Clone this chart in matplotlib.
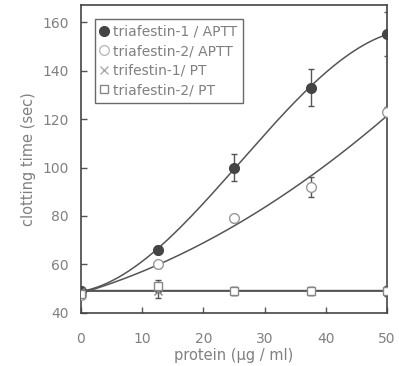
import numpy as np
import matplotlib
matplotlib.use("Agg")
import matplotlib.pyplot as plt
from matplotlib.lines import Line2D

# protein concentration (ug/ml)
protein = [0, 12.5, 25, 37.5, 50]

# clotting times (sec)
t1_aptt = [49, 66, 100, 133, 155]
t1_aptt_err = [1.5, 1.5, 5.5, 7.5, 9]
t2_aptt = [47.5, 60, 79, 92, 123]
t2_aptt_err = [1.5, 1.5, 1.5, 4, 2]
t1_pt = [49, 49, 49, 49, 49]
t1_pt_err = [1.5, 3, 1.5, 1.5, 2]
t2_pt = [48, 51, 49, 49, 49]
t2_pt_err = [1.5, 2.5, 1.5, 1.5, 1.5]

labels = ['triafestin-1 / APTT', 'triafestin-2/ APTT', 'trifestin-1/ PT', 'triafestin-2/ PT']

txt = '#808080'
ln = '#555555'

fig = plt.figure(figsize=(3.99, 3.66), dpi=100)
ax = fig.add_axes([0.203, 0.145, 0.767, 0.841])

xs = np.linspace(0, 50, 200)
# smooth fit curves
c1 = np.polyfit(protein, t1_aptt, 3)
c2 = np.polyfit(protein, t2_aptt, 2)
ax.plot(xs, np.polyval(c1, xs), color=ln, lw=1.1, zorder=2)
ax.plot(xs, np.polyval(c2, xs), color=ln, lw=1.1, zorder=2)
ax.plot([0, 50], [np.mean(t1_pt), np.mean(t1_pt)], color=ln, lw=1.3, zorder=2)
ax.plot([0, 50], [np.mean(t2_pt) + 0.4, np.mean(t2_pt) + 0.4], color=ln, lw=1.0, zorder=2)

ekw = dict(ecolor=ln, elinewidth=1, capsize=2.5, capthick=1, ls='none', zorder=3)
ax.errorbar(protein, t1_aptt, yerr=t1_aptt_err, fmt='o', ms=7, mfc='#444444', mec='#444444', **ekw)
ax.errorbar(protein, t2_aptt, yerr=t2_aptt_err, fmt='o', ms=7, mfc='white', mec='#999999', **ekw)
ax.errorbar(protein, t1_pt, yerr=t1_pt_err, fmt='x', ms=6, mec='#888888', **ekw)
ax.errorbar(protein, t2_pt, yerr=t2_pt_err, fmt='s', ms=6, mfc='white', mec='#888888', **ekw)

handles = [
    Line2D([], [], ls='none', marker='o', ms=7, mfc='#444444', mec='#444444'),
    Line2D([], [], ls='none', marker='o', ms=7, mfc='white', mec='#bbbbbb'),
    Line2D([], [], ls='none', marker='x', ms=6, mec='#aaaaaa'),
    Line2D([], [], ls='none', marker='s', ms=6, mfc='white', mec='#888888'),
]

ax.set_xlim(0, 50)
ax.set_ylim(40, 167)
ax.set_xticks([0, 10, 20, 30, 40, 50])
ax.set_yticks([40, 60, 80, 100, 120, 140, 160])
ax.tick_params(direction='in', length=4, width=1, colors=ln, labelcolor=txt, labelsize=10)
ax.tick_params(axis='x', pad=14)
ax.tick_params(axis='y', pad=9)
for s in ax.spines.values():
    s.set_color('#444444')
    s.set_linewidth(1.2)

ax.set_xlabel('protein (\u00b5g / ml)', color=txt, fontsize=10.5, labelpad=1)
ax.set_ylabel('clotting time (sec)', color=txt, fontsize=10.5, labelpad=4)

leg = ax.legend(handles, labels, loc='upper left', bbox_to_anchor=(0.045, 0.955), fontsize=10,
                frameon=True, fancybox=False, edgecolor='#444444', handlelength=0.6,
                handletextpad=0.3, borderpad=0.4, labelspacing=0.4, borderaxespad=0)
leg.get_frame().set_linewidth(1)
for t in leg.get_texts():
    t.set_color(txt)

fig.savefig('out.png', dpi=100)
